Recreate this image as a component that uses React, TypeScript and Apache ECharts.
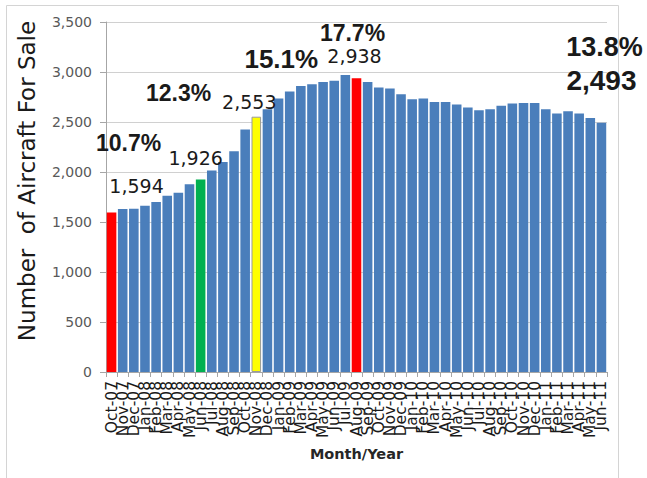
import React, { useEffect, useRef } from "react";
import * as echarts from "echarts";

// Monthly inventory of aircraft listed for sale
const months = [
  "Oct-07", "Nov-07", "Dec-07",
  "Jan-08", "Feb-08", "Mar-08", "Apr-08", "May-08", "Jun-08",
  "Jul-08", "Aug-08", "Sep-08", "Oct-08", "Nov-08", "Dec-08",
  "Jan-09", "Feb-09", "Mar-09", "Apr-09", "May-09", "Jun-09",
  "Jul-09", "Aug-09", "Sep-09", "Oct-09", "Nov-09", "Dec-09",
  "Jan-10", "Feb-10", "Mar-10", "Apr-10", "May-10", "Jun-10",
  "Jul-10", "Aug-10", "Sep-10", "Oct-10", "Nov-10", "Dec-10",
  "Jan-11", "Feb-11", "Mar-11", "Apr-11", "May-11", "Jun-11",
];

const aircraftForSale = [
  1594, 1630, 1632,
  1662, 1700, 1762, 1792, 1878, 1926,
  2015, 2100, 2208, 2425, 2553, 2628,
  2735, 2805, 2860, 2878, 2900, 2912,
  2970, 2938, 2900, 2845, 2835, 2778,
  2728, 2735, 2700, 2700, 2675, 2645,
  2618, 2628, 2662, 2685, 2690, 2690,
  2628, 2585, 2608, 2585, 2540, 2493,
];

// Highlighted months and their bar colours
const highlightMonths = ["Oct-07", "Jun-08", "Nov-08", "Aug-09"];
const highlightColors = ["#FF0000", "#00B050", "#FFFF00", "#FF0000"];

// Callouts: month, share of fleet for sale
const calloutMonths = ["Oct-07", "Jun-08", "Nov-08", "Aug-09", "Jun-11"];
const calloutShares = ["10.7%", "12.3%", "15.1%", "17.7%", "13.8%"];

// Callout text placement relative to the top of the bar
const calloutLayout = [
  { share: [17, -70], count: [25, -27], shareSize: 23, countSize: 19, countBold: false },
  { share: [-22, -86], count: [-5, -21], shareSize: 23, countSize: 19, countBold: false },
  { share: [25, -58], count: [-7, -15], shareSize: 26, countSize: 19, countBold: false },
  { share: [-4, -45], count: [-2, -22], shareSize: 23, countSize: 19, countBold: false },
  { share: [3, -76], count: [0, -42], shareSize: 27, countSize: 28, countBold: true },
];

const BLUE = "#4A7EBB";
const fmt = (v: number) => v.toLocaleString("en-US");

export default function App() {
  const ref = useRef<HTMLDivElement>(null);

  useEffect(() => {
    if (!ref.current) return;
    const chart = echarts.init(ref.current, null, { renderer: "svg" });

    const barData = aircraftForSale.map((v, i) => {
      const h = highlightMonths.indexOf(months[i]);
      if (h < 0) return v;
      const isYellow = highlightColors[h] === "#FFFF00";
      return {
        value: v,
        itemStyle: {
          color: highlightColors[h],
          borderColor: isYellow ? "#9a9a9a" : undefined,
          borderWidth: isYellow ? 1 : 0,
        },
      };
    });

    const markData: any[] = [];
    calloutMonths.forEach((m, k) => {
      const idx = months.indexOf(m);
      const v = aircraftForSale[idx];
      const lay = calloutLayout[k];
      markData.push({
        coord: [idx, v],
        symbolSize: 1,
        itemStyle: { color: "rgba(0,0,0,0)" },
        label: {
          show: true,
          position: "inside",
          offset: lay.share,
          formatter: calloutShares[k],
          fontFamily: "Liberation Sans, Arial, sans-serif",
          fontWeight: "bold",
          fontSize: lay.shareSize,
          color: "#1a1a1a",
        },
      });
      markData.push({
        coord: [idx, v],
        symbolSize: 1,
        itemStyle: { color: "rgba(0,0,0,0)" },
        label: {
          show: true,
          position: "inside",
          offset: lay.count,
          formatter: fmt(v),
          fontFamily: lay.countBold
            ? "Liberation Sans, Arial, sans-serif"
            : "DejaVu Sans, sans-serif",
          fontWeight: lay.countBold ? "bold" : "normal",
          fontSize: lay.countSize,
          color: "#1a1a1a",
        },
      });
    });

    chart.setOption({
      animation: false,
      backgroundColor: "#ffffff",
      grid: { left: 106, right: 40, top: 22, bottom: 106 },
      xAxis: {
        type: "category",
        data: months,
        name: "Month/Year",
        nameLocation: "middle",
        nameGap: 74,
        nameTextStyle: {
          fontFamily: "DejaVu Sans, sans-serif",
          fontWeight: "bold",
          fontSize: 14.5,
          color: "#262626",
        },
        axisLine: { show: true, lineStyle: { color: "#a6a6a6" } },
        axisTick: { show: true, length: 5, lineStyle: { color: "#a6a6a6" } },
        axisLabel: {
          interval: 0,
          rotate: 90,
          margin: 9,
          fontFamily: "DejaVu Sans, sans-serif",
          fontSize: 15.5,
          color: "#1a1a1a",
        },
      },
      yAxis: {
        type: "value",
        min: 0,
        max: 3500,
        interval: 500,
        axisLine: { show: true, lineStyle: { color: "#a6a6a6" } },
        axisTick: { show: true, length: 6, lineStyle: { color: "#a6a6a6" } },
        splitLine: { show: true, lineStyle: { color: "#d0d0d0" } },
        axisLabel: {
          formatter: (v: number) => fmt(v),
          margin: 14,
          fontFamily: "DejaVu Sans, sans-serif",
          fontSize: 14,
          color: "#595959",
        },
      },
      series: [
        {
          type: "bar",
          data: barData,
          barCategoryGap: "14%",
          itemStyle: { color: BLUE },
          markPoint: { symbol: "circle", data: markData, silent: true },
        },
      ],
      graphic: [
        {
          type: "rect",
          shape: { x: 6.5, y: 5.5, width: 612, height: 474 },
          style: { fill: "none", stroke: "#d4d4d4", lineWidth: 1 },
          silent: true,
        },
        {
          type: "text",
          x: 27,
          y: 181,
          rotation: Math.PI / 2,
          style: {
            text: "Number  of Aircraft For Sale",
            fontFamily: "DejaVu Sans, sans-serif",
            fontSize: 23,
            fill: "#1a1a1a",
            align: "center",
            verticalAlign: "middle",
          },
        },
      ],
    });

    return () => chart.dispose();
  }, []);

  return (
    <div
      ref={ref}
      style={{ position: "fixed", left: 0, top: 0, width: 647, height: 478 }}
    />
  );
}
